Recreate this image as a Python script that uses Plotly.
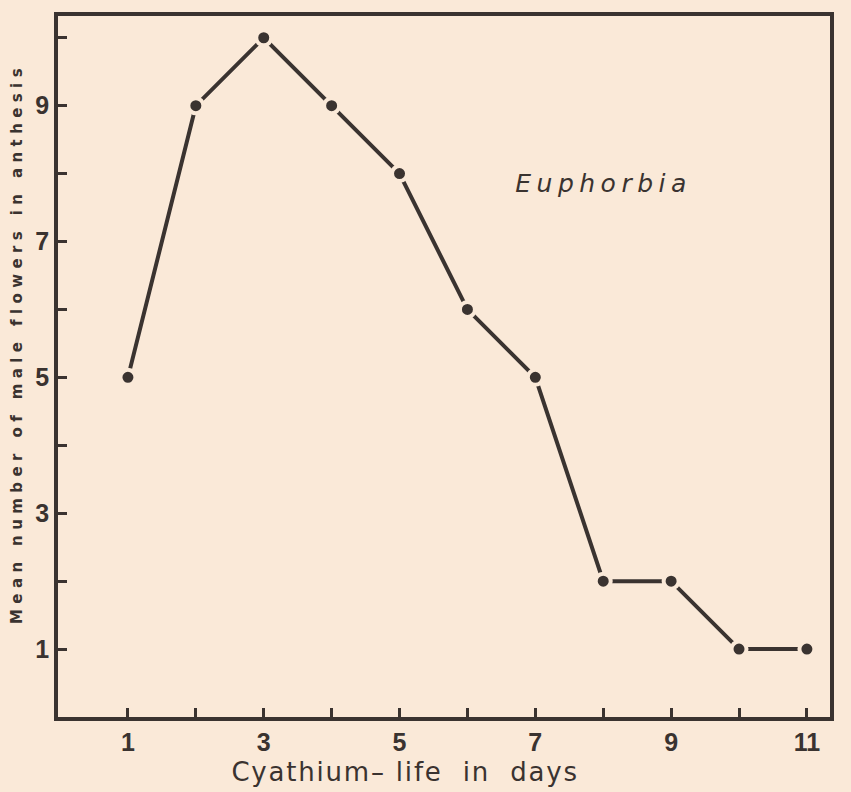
import plotly.graph_objects as go

# Cyathium life (days) vs. mean number of male flowers in anthesis
days = [1, 2, 3, 4, 5, 6, 7, 8, 9, 10, 11]
male_flowers = [5, 9, 10, 9, 8, 6, 5, 2, 2, 1, 1]

x_ticks = list(range(1, 12))
x_labels = [str(v) if v % 2 else "" for v in x_ticks]
y_ticks = list(range(1, 11))
y_labels = [str(v) if v % 2 else "" for v in y_ticks]

INK = "#3a3330"
PAPER = "#fae9d8"

fig = go.Figure()
fig.add_trace(go.Scatter(
    x=days, y=male_flowers, mode="lines+markers",
    line=dict(color=INK, width=4),
    marker=dict(size=15, color=INK, line=dict(color=PAPER, width=4)),
    showlegend=False, hoverinfo="skip",
))

axis_common = dict(
    showline=True, linewidth=3.5, linecolor=INK, mirror=True,
    showgrid=False, zeroline=False,
    ticks="inside", ticklen=9, tickwidth=2.5, tickcolor=INK,
    tickfont=dict(family="Liberation Sans", size=25, color=INK, weight="bold"),
)

fig.update_xaxes(range=[-0.03, 11.34], tickvals=x_ticks, ticktext=x_labels,
                 ticklabelstandoff=0, **axis_common)
fig.update_yaxes(range=[0, 10.32], tickvals=y_ticks, ticktext=y_labels,
                 ticklabelstandoff=0, **axis_common)

fig.add_annotation(
    text="Cyathium\u2013 life  in  days", xref="paper", yref="paper",
    x=0.449, y=-0.078, xanchor="center", yanchor="middle", showarrow=False,
    font=dict(family="DejaVu Sans", size=26, color=INK),
)
fig.add_annotation(
    text="Mean number of male flowers in anthesis", xref="paper", yref="paper",
    x=-0.053, y=0.533, xanchor="center", yanchor="middle", textangle=-90,
    showarrow=False,
    font=dict(family="DejaVu Sans", size=15, color=INK, weight="bold"),
)
fig.add_annotation(
    text="Euphorbia", x=8.0, y=7.85, xanchor="center", yanchor="middle",
    showarrow=False,
    font=dict(family="DejaVu Sans", size=25, color=INK, style="italic"),
)

fig.update_layout(
    width=851, height=792,
    margin=dict(l=58, r=21, t=13, b=75),
    paper_bgcolor=PAPER, plot_bgcolor=PAPER,
)

# widen the lettering of the hand-drawn labels
post = """
var spacing = {'Mean number of male flowers in anthesis': '5.4px',
               'Euphorbia': '5.5px',
               'Cyathium\\u2013 life  in  days': '1.8px'};
document.querySelectorAll('.annotation-text').forEach(function (t) {
  var s = spacing[t.textContent];
  if (s) { t.style.letterSpacing = s; }
});
"""

fig.write_html("out.html", post_script=post)
